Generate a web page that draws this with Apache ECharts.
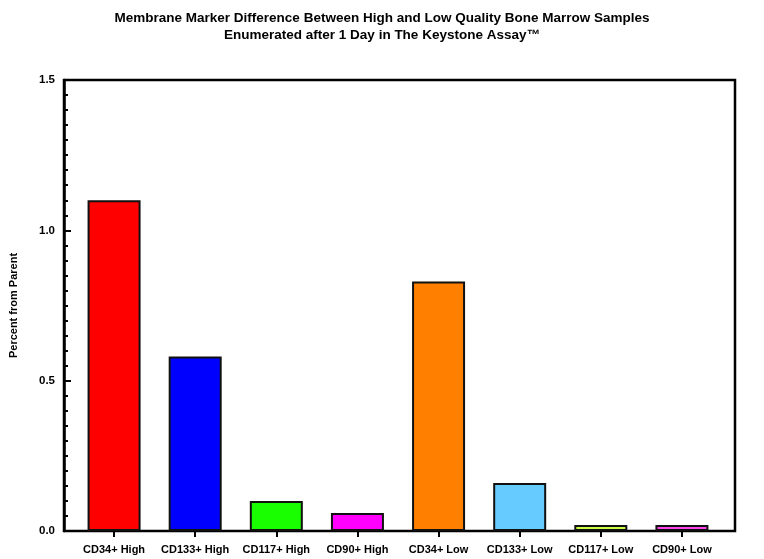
<!DOCTYPE html>
<html lang="en">
<head>
    <meta charset="UTF-8">
    <title>Membrane Marker Difference</title>
    <script src="https://cdn.jsdelivr.net/npm/echarts@6/dist/echarts.min.js"></script>
    <style>
        *{
            margin: 0;
            padding: 0;
        }
        .container{
            width: 764px;
            height: 559px;
        }
    </style>
</head>
<body>
<div class="container"></div>
<script>
    let categories = ['CD34+ High', 'CD133+ High', 'CD117+ High', 'CD90+ High',
        'CD34+ Low', 'CD133+ Low', 'CD117+ Low', 'CD90+ Low'];
    let values = [1.1, 0.58, 0.1, 0.06, 0.83, 0.16, 0.02, 0.02];
    let colors = ['#ff0000', '#0000ff', '#1aff00', '#ff00ff',
        '#ff8000', '#66ccff', '#ccff44', '#ff44ee'];
    let yTicks = ['0.0', '0.5', '1.0', '1.5'];

    let mycharts = echarts.init(document.querySelector('.container'));
    let font = 'Liberation Sans, Arial, sans-serif';

    let option = {
        backgroundColor: '#fff',
        title: {
            text: 'Membrane Marker Difference Between High and Low Quality Bone Marrow Samples\nEnumerated after 1 Day in The Keystone Assay™',
            left: 'center',
            top: 5,
            textStyle: {
                fontFamily: font,
                fontWeight: 'bold',
                fontSize: 13.5,
                lineHeight: 17,
                color: '#000'
            }
        },
        grid: [
            // outer frame + y axis
            {left: 61, right: 29, top: 80, bottom: 28, show: true, borderColor: '#000', borderWidth: 2.5},
            // bars
            {left: 73.5, right: 41.5, top: 80, bottom: 28}
        ],
        xAxis: [
            {gridIndex: 0, type: 'value', show: false, min: 0, max: 1},
            {
                gridIndex: 1,
                type: 'category',
                data: categories,
                axisLine: {show: false},
                axisTick: {show: true, alignWithLabel: true, length: 6, lineStyle: {color: '#000', width: 2}},
                axisLabel: {
                    interval: 0,
                    margin: 13,
                    fontFamily: font,
                    fontWeight: 'bold',
                    fontSize: 11,
                    color: '#000'
                }
            }
        ],
        yAxis: [
            {
                gridIndex: 0,
                type: 'value',
                min: 0,
                max: 1.5,
                interval: 0.5,
                name: 'Percent from Parent',
                nameLocation: 'middle',
                nameGap: 45,
                nameTextStyle: {fontFamily: font, fontWeight: 'bold', fontSize: 11, color: '#000'},
                axisLine: {show: true, lineStyle: {color: '#000', width: 2.5}},
                axisTick: {show: true, inside: true, length: 7, lineStyle: {color: '#000', width: 2}},
                minorTick: {show: true, splitNumber: 10, length: 4, lineStyle: {color: '#000', width: 2}},
                splitLine: {show: false},
                axisLabel: {
                    margin: 9,
                    fontFamily: font,
                    fontWeight: 'bold',
                    fontSize: 11.5,
                    color: '#000',
                    formatter: function (v) {
                        return yTicks[Math.round(v / 0.5)];
                    }
                }
            },
            {gridIndex: 1, type: 'value', min: 0, max: 1.5, show: false}
        ],
        series: [{
            type: 'bar',
            xAxisIndex: 1,
            yAxisIndex: 1,
            barWidth: 53,
            data: values.map((v, i) => ({
                value: v,
                itemStyle: {color: colors[i], borderColor: '#111', borderWidth: 2}
            }))
        }]
    };

    mycharts.setOption(option);
</script>
</body>
</html>
